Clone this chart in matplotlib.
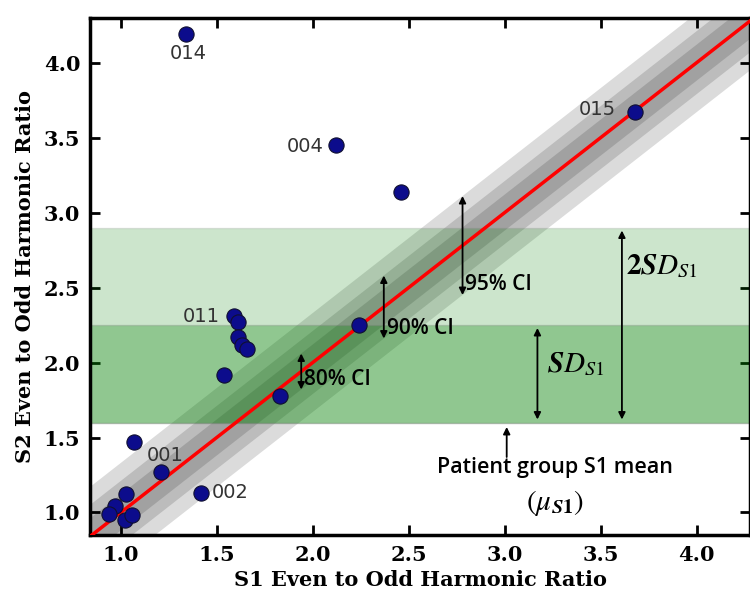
import matplotlib.pyplot as plt
import numpy as np

plt.rcParams['mathtext.fontset'] = 'stix'

# S1 / S2 even-to-odd harmonic ratios per subject
s1 = [1.34, 2.12, 2.46, 3.68, 1.59, 1.61, 1.61, 1.63, 1.66, 1.54, 1.83, 2.24,
      1.07, 1.21, 1.42, 1.03, 0.97, 0.94, 1.02, 1.06]
s2 = [4.19, 3.45, 3.14, 3.67, 2.31, 2.27, 2.17, 2.12, 2.09, 1.92, 1.78, 2.25,
      1.47, 1.27, 1.13, 1.12, 1.04, 0.99, 0.95, 0.98]

labels = ['014', '004', '015', '011', '001', '002']
label_x = [1.35, 1.96, 3.48, 1.42, 1.23, 1.57]
label_y = [4.06, 3.44, 3.69, 2.31, 1.38, 1.13]

ci_names = ['80% CI', '90% CI', '95% CI']
ci_half = [0.12, 0.21, 0.33]
ci_at = [1.94, 2.37, 2.78]

s1_mean = 1.6
s1_sd = 0.65

fig = plt.figure(figsize=(7.5, 5.92), dpi=100)
ax = fig.add_axes([0.12, 0.0963, 0.88, 0.8733])

xx = np.linspace(0.5, 4.6, 50)
for h in ci_half:
    ax.fill_between(xx, xx - h, xx + h, color='black', alpha=0.14, lw=0, zorder=1)

ax.axhspan(s1_mean, s1_mean + 2 * s1_sd, facecolor='green', alpha=0.2,
           edgecolor='gray', lw=1, zorder=2)
ax.axhspan(s1_mean, s1_mean + s1_sd, facecolor='green', alpha=0.29,
           edgecolor='gray', lw=1, zorder=2)

ax.plot(xx, xx, color='red', lw=2.5, zorder=3)
ax.scatter(s1, s2, s=120, color='#0c0c8c', edgecolor='#101030', lw=0.8, zorder=4)

for t, x, y in zip(labels, label_x, label_y):
    ax.text(x, y, t, fontsize=14, color='#333333', ha='center', va='center', zorder=5)

arrow = dict(arrowstyle='<|-|>', color='black', lw=1.3, mutation_scale=10,
             shrinkA=0, shrinkB=0)
for n, h, x in zip(ci_names, ci_half, ci_at):
    ax.annotate('', xy=(x, x + h), xytext=(x, x - h), arrowprops=arrow, zorder=5)
    ax.text(x + 0.015, x - h + 0.07, n, family='Open Sans', fontweight='semibold',
            fontsize=15, ha='left', va='center', zorder=5)

ax.annotate('', xy=(3.17, s1_mean + s1_sd - 0.02), xytext=(3.17, s1_mean + 0.02),
            arrowprops=arrow, zorder=5)
ax.text(3.22, s1_mean + s1_sd * 0.6, r'$\boldsymbol{SD_{S1}}$', fontsize=21,
        ha='left', va='center', zorder=5)
ax.annotate('', xy=(3.61, s1_mean + 2 * s1_sd - 0.02), xytext=(3.61, s1_mean + 0.02),
            arrowprops=arrow, zorder=5)
ax.text(3.63, 2.64, r'$\mathbf{2}\boldsymbol{SD_{S1}}$',
        fontsize=21, ha='left', va='center', zorder=5)

ax.annotate('', xy=(3.01, s1_mean - 0.03), xytext=(3.01, s1_mean - 0.23),
            arrowprops=dict(arrowstyle='-|>', color='black', lw=1.3,
                            mutation_scale=10, shrinkA=0, shrinkB=0), zorder=5)
ax.text(3.26, 1.30, 'Patient group S1 mean', family='Open Sans', fontweight='semibold',
        fontsize=15.5, ha='center', va='center', zorder=5)
ax.text(3.26, 1.06, r'$(\mu_{\boldsymbol{S1}})$', fontsize=21,
        ha='center', va='center', zorder=5)

ax.set_xlim(0.84, 4.277)
ax.set_ylim(0.85, 4.297)
ax.set_xticks([1.0, 1.5, 2.0, 2.5, 3.0, 3.5, 4.0])
ax.set_yticks([1.0, 1.5, 2.0, 2.5, 3.0, 3.5, 4.0])
ax.tick_params(direction='in', length=7, width=2, top=True, right=True, pad=7)
for lab in ax.get_xticklabels() + ax.get_yticklabels():
    lab.set_family('DejaVu Serif')
    lab.set_fontweight('bold')
    lab.set_fontsize(15)
for sp in ax.spines.values():
    sp.set_linewidth(2.5)

ax.set_xlabel('S1 Even to Odd Harmonic Ratio', family='DejaVu Serif',
              fontweight='bold', fontsize=15, labelpad=4)
ax.set_ylabel('S2 Even to Odd Harmonic Ratio', family='DejaVu Serif',
              fontweight='bold', fontsize=15, labelpad=6)

fig.savefig('out.png', dpi=100)
